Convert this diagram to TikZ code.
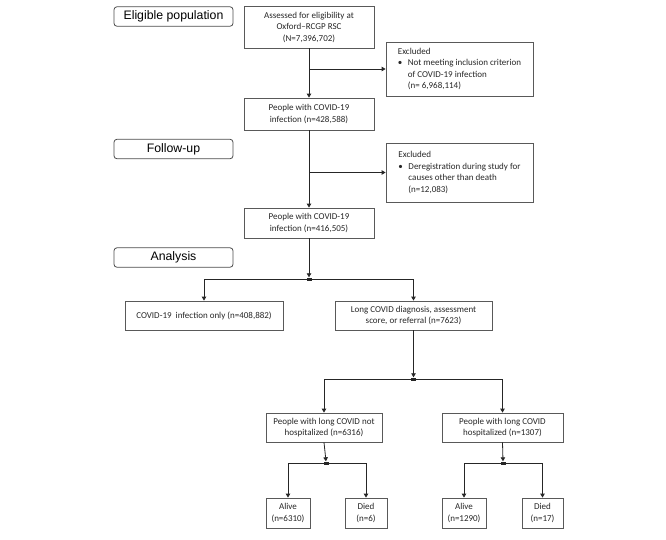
\documentclass[tikz,border=0pt]{standalone}
\usepackage{fontspec}
\setmainfont{Carlito}
\newfontfamily\stagefont{Liberation Sans}
\usetikzlibrary{arrows.meta}
\tikzset{
  box/.style={draw=black!65, line width=0.8pt, inner sep=2pt, align=center,
    font=\fontsize{9}{11.5}\selectfont, text=black!85},
  stage/.style={draw=black!70, line width=0.8pt, rounded corners=3pt, inner sep=0pt,
    font=\stagefont\fontsize{12.3}{14}\selectfont, minimum width=119pt, minimum height=19.5pt},
  conn/.style={draw=black!85, line width=0.8pt},
  arr/.style={conn, -{Triangle[width=4.5pt,length=4pt]}},
  jsq/.style={fill=black!85, minimum width=5pt, minimum height=3pt, inner sep=0pt, draw=none}
}
\begin{document}
\begin{tikzpicture}[x=1pt,y=-1pt]
\useasboundingbox (0,0) rectangle (666,539);

% stage labels
\node[stage] (elig) at (173.5,16.5) {Eligible population};
\node[stage] (follow) at (173.5,149) {Follow-up};
\node[stage] (analysis) at (173.5,257.5) {Analysis};

% main boxes
\node[box, minimum width=130pt, minimum height=42pt] (assess) at (309,27)
  {Assessed for eligibility at\\Oxford--RCGP RSC\\(N=7,396,702)};
\node[box, minimum width=147pt, minimum height=54pt, align=left] (excl1) at (459.5,69)
  {Excluded\\\makebox[10pt][l]{•}Not meeting inclusion criterion\\\hspace*{10pt}of COVID-19 infection\\\hspace*{10pt}(n= 6,968,114)};
\node[box, minimum width=130pt, minimum height=32pt] (p1) at (309,114)
  {People with COVID-19\\infection (n=428,588)};
\node[box, minimum width=147pt, minimum height=59pt, align=left] (excl2) at (459.5,172.5)
  {Excluded\\\makebox[10pt][l]{•}Deregistration during study for\\\hspace*{10pt}causes other than death\\\hspace*{10pt}(n=12,083)};
\node[box, minimum width=130pt, minimum height=30pt] (p2) at (309,223)
  {People with COVID-19\\infection (n=416,505)};

\node[box, minimum width=158pt, minimum height=29pt] (only) at (204,315.5)
  {COVID-19\ \ infection only (n=408,882)};
\node[box, minimum width=157pt, minimum height=29pt] (longc) at (413.5,315.5)
  {Long COVID diagnosis, assessment\\score, or referral (n=7623)};

\node[box, minimum width=116pt, minimum height=29pt] (nh) at (324,427.5)
  {People with long COVID not\\hospitalized (n=6316)};
\node[box, minimum width=121pt, minimum height=29pt] (h) at (502.5,427.5)
  {People with long COVID\\hospitalized (n=1307)};

\node[box, minimum width=44pt, minimum height=30pt] (a1) at (288,513) {Alive\\(n=6310)};
\node[box, minimum width=42pt, minimum height=30pt] (d1) at (366,513) {Died\\(n=6)};
\node[box, minimum width=44pt, minimum height=30pt] (a2) at (464,513) {Alive\\(n=1290)};
\node[box, minimum width=41pt, minimum height=30pt] (d2) at (542.5,513) {Died\\(n=17)};

% junction points
\coordinate (b1) at (309,69);
\coordinate (b2) at (309,172.5);
\node[jsq] (j1) at (309,279) {};
\node[jsq] (j2) at (413.5,379) {};
\node[jsq] (j3) at (326,463) {};
\node[jsq] (j4) at (503,463) {};

% connectors
\draw[arr] (assess.south) -- (p1.north);
\draw[arr] (b1) -- (excl1.west |- b1);
\draw[arr] (p1.south) -- (p2.north);
\draw[arr] (b2) -- (excl2.west |- b2);

\draw[arr] (p2.south) -- (j1.north);
\draw[arr] (j1.center) -| (only.north);
\draw[arr] (j1.center) -| (longc.north);

\draw[arr] (longc.south) -- (j2.north);
\draw[arr] (j2.center) -| (nh.north);
\draw[arr] (j2.center) -| (h.north);

\draw[arr] (nh.south) -- (j3.north);
\draw[arr] (j3.center) -| (a1.north);
\draw[arr] (j3.center) -| (d1.north);

\draw[arr] (h.south) -- (j4.north);
\draw[arr] (j4.center) -| (a2.north);
\draw[arr] (j4.center) -| (d2.north);

\node[jsq] at (j1) {};
\node[jsq] at (j2) {};
\node[jsq] at (j3) {};
\node[jsq] at (j4) {};
\end{tikzpicture}
\end{document}
